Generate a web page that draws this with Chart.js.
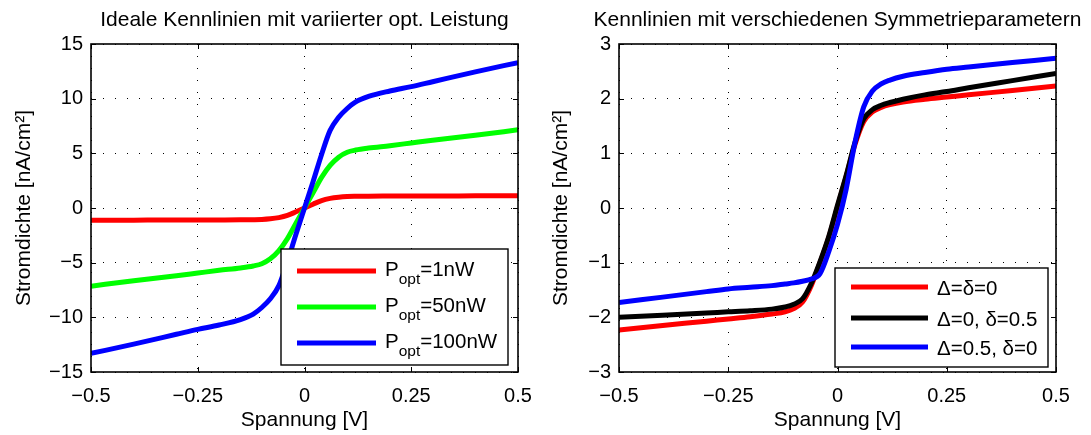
<!DOCTYPE html>
<html>
<head>
<meta charset="utf-8">
<script src="https://cdn.jsdelivr.net/npm/chart.js@4"></script>
<style>
  html, body { margin: 0; padding: 0; background: #fff; }
  #wrap { position: relative; width: 1091px; height: 435px; }
  canvas { position: absolute; top: 0; }
  #left { left: 0; }
  #right { left: 545px; }
</style>
</head>
<body>
<div id="wrap">
  <canvas id="left" width="545" height="435"></canvas>
  <canvas id="right" width="546" height="435"></canvas>
</div>
<script>
// voltage samples (V), shared by all curves
const voltage = [-0.5, -0.4, -0.3, -0.25, -0.2, -0.15, -0.12, -0.1, -0.08, -0.06, -0.04, -0.02, 0,
                 0.02, 0.04, 0.06, 0.08, 0.1, 0.12, 0.15, 0.2, 0.25, 0.3, 0.4, 0.5];

// left plot: current density for different optical power
const leftLabels = ['P_{opt}=1nW', 'P_{opt}=50nW', 'P_{opt}=100nW'];
const p1nW   = [-1.12, -1.11, -1.1, -1.1, -1.09, -1.08, -1.07, -1.05, -0.99, -0.88, -0.68, -0.35, 0,
                0.35, 0.68, 0.88, 0.99, 1.05, 1.07, 1.08, 1.09, 1.1, 1.1, 1.11, 1.12];
const p50nW  = [-7.15, -6.65, -6.2, -5.95, -5.7, -5.48, -5.3, -5.1, -4.65, -3.9, -2.8, -1.4, 0,
                1.4, 2.8, 3.9, 4.65, 5.1, 5.3, 5.48, 5.7, 5.95, 6.2, 6.65, 7.15];
const p100nW = [-13.3, -12.45, -11.55, -11.1, -10.7, -10.2, -9.7, -9.1, -8.3, -7.1, -4.9, -2.4, 0,
                2.4, 4.9, 7.1, 8.3, 9.1, 9.7, 10.2, 10.7, 11.1, 11.55, 12.45, 13.3];

// right plot: different symmetry parameters
const rightLabels = ['\u0394=\u03b4=0', '\u0394=0, \u03b4=0.5', '\u0394=0.5, \u03b4=0'];
const symNone  = [-2.23, -2.15, -2.07, -2.03, -1.99, -1.94, -1.9, -1.84, -1.72, -1.42, -1.0, -0.54, 0.02,
                  0.58, 1.16, 1.58, 1.76, 1.84, 1.89, 1.94, 1.99, 2.03, 2.07, 2.15, 2.23];
const symDelta = [-2.0, -1.96, -1.92, -1.9, -1.88, -1.85, -1.81, -1.76, -1.66, -1.38, -0.98, -0.52, 0.05,
                  0.6, 1.2, 1.63, 1.8, 1.88, 1.93, 1.99, 2.07, 2.13, 2.2, 2.33, 2.46];
const symBig   = [-1.73, -1.63, -1.53, -1.48, -1.45, -1.42, -1.39, -1.37, -1.34, -1.3, -1.2, -0.8, -0.3,
                  0.35, 1.2, 1.85, 2.14, 2.27, 2.34, 2.41, 2.48, 2.54, 2.58, 2.66, 2.74];

const xTicks = [-0.5, -0.25, 0, 0.25, 0.5];

const FONT = '"Liberation Sans", Arial, Helvetica, sans-serif';
const fmt = v => (v < 0 ? '\u2212' : '') + Math.abs(v);

function points(ys) {
    return voltage.map((v, i) => ({ x: v, y: ys[i] }));
}

// draws "P_{opt}=1nW" style labels with a subscript
function drawLabel(ctx, text, x, y) {
    const m = text.match(/^(.*?)_\{(.*?)\}(.*)$/);
    ctx.fillStyle = '#000';
    ctx.textBaseline = 'alphabetic';
    ctx.textAlign = 'left';
    ctx.font = '20.5px ' + FONT;
    if (!m) {
        ctx.fillText(text, x, y + 8);
        return;
    }
    const base = y + 4.5;
    ctx.fillText(m[1], x, base);
    x += ctx.measureText(m[1]).width;
    ctx.font = '15.5px ' + FONT;
    ctx.fillText(m[2], x, base + 8);
    x += ctx.measureText(m[2]).width;
    ctx.font = '20.5px ' + FONT;
    ctx.fillText(m[3], x, base);
}

// matlab style frame: box, inner ticks, legend and title
const frame = {
    id: 'frame',
    afterDatasetsDraw(chart, args, opts) {
        const { ctx, chartArea: a, scales: { x, y } } = chart;
        ctx.save();
        ctx.strokeStyle = '#000';
        ctx.lineWidth = 1;
        ctx.beginPath();
        x.ticks.forEach(t => {
            const px = Math.round(x.getPixelForValue(t.value)) + 0.5;
            ctx.moveTo(px, a.bottom); ctx.lineTo(px, a.bottom - 5);
            ctx.moveTo(px, a.top); ctx.lineTo(px, a.top + 5);
        });
        y.ticks.forEach(t => {
            const py = Math.round(y.getPixelForValue(t.value)) + 0.5;
            ctx.moveTo(a.left, py); ctx.lineTo(a.left + 5, py);
            ctx.moveTo(a.right, py); ctx.lineTo(a.right - 5, py);
        });
        ctx.stroke();
        ctx.lineWidth = 1.6;
        ctx.strokeRect(a.left, a.top, a.right - a.left, a.bottom - a.top);

        // legend
        const L = opts.legend;
        ctx.fillStyle = '#fff';
        ctx.fillRect(L.x1, L.y1, L.x2 - L.x1, L.y2 - L.y1);
        ctx.lineWidth = 1.4;
        ctx.strokeRect(L.x1, L.y1, L.x2 - L.x1, L.y2 - L.y1);
        chart.data.datasets.forEach((ds, i) => {
            const ry = L.rows[i];
            ctx.strokeStyle = ds.borderColor;
            ctx.lineWidth = 5;
            ctx.beginPath();
            ctx.moveTo(L.lx1, ry); ctx.lineTo(L.lx2, ry);
            ctx.stroke();
            drawLabel(ctx, ds.label, L.tx, ry);
        });

        // title
        ctx.fillStyle = '#000';
        ctx.font = '21px ' + FONT;
        ctx.textAlign = 'center';
        ctx.textBaseline = 'alphabetic';
        ctx.fillText(opts.title, (a.left + a.right) / 2, 26);
        ctx.restore();
    }
};

function makeChart(id, labels, series, colors, yMin, yMax, yStep, layout, legend, title) {
    return new Chart(document.getElementById(id), {
        type: 'line',
        data: {
            datasets: series.map((s, i) => ({
                label: labels[i],
                data: points(s),
                borderColor: colors[i],
                borderWidth: 5,
                pointRadius: 0,
                cubicInterpolationMode: 'monotone',
                fill: false,
                order: series.length - i
            }))
        },
        options: {
            responsive: false,
            animation: false,
            devicePixelRatio: 1,
            layout: { padding: layout.padding },
            plugins: {
                legend: { display: false },
                tooltip: { enabled: false },
                title: { display: false },
                frame: { legend: legend, title: title }
            },
            scales: {
                x: {
                    type: 'linear',
                    min: -0.5, max: 0.5,
                    afterBuildTicks: s => { s.ticks = xTicks.map(v => ({ value: v })); },
                    afterFit: s => { s.height = 63; },
                    grid: { color: '#000', lineWidth: 1, drawTicks: false },
                    border: { display: false, dash: [1, 11] },
                    ticks: { color: '#000', font: { family: FONT, size: 20 }, padding: 12, callback: fmt, maxRotation: 0 },
                    title: { display: true, text: 'Spannung [V]', color: '#000',
                             font: { family: FONT, size: 21 }, padding: { top: 0, bottom: 2 } }
                },
                y: {
                    min: yMin, max: yMax,
                    ticks: { stepSize: yStep, color: '#000', font: { family: FONT, size: 20 }, padding: 8, callback: fmt },
                    afterFit: s => { s.width = layout.yWidth; },
                    grid: { color: '#000', lineWidth: 1, drawTicks: false },
                    border: { display: false, dash: [1, 11] },
                    title: { display: true, text: 'Stromdichte [nA/cm\u00b2]', color: '#000',
                             font: { family: FONT, size: 21 }, padding: { top: layout.yTitlePad, bottom: 0 } }
                }
            }
        },
        plugins: [frame]
    });
}

makeChart('left', leftLabels, [p1nW, p50nW, p100nW], ['#ff0000', '#00ff00', '#0000ff'],
    -15, 15, 5,
    { padding: { left: 0, right: 27, top: 44, bottom: 0 }, yWidth: 91, yTitlePad: 12 },
    { x1: 281, y1: 249, x2: 508, y2: 365, lx1: 297, lx2: 376, tx: 385, rows: [271, 307, 343] },
    'Ideale Kennlinien mit variierter opt. Leistung');

makeChart('right', rightLabels, [symNone, symDelta, symBig], ['#ff0000', '#000000', '#0000ff'],
    -3, 3, 1,
    { padding: { left: 0, right: 35, top: 44, bottom: 0 }, yWidth: 74, yTitlePad: 4 },
    { x1: 290, y1: 268, x2: 503, y2: 367, lx1: 306, lx2: 383, tx: 392, rows: [287, 318, 347] },
    'Kennlinien mit verschiedenen Symmetrieparametern');
</script>
</body>
</html>
